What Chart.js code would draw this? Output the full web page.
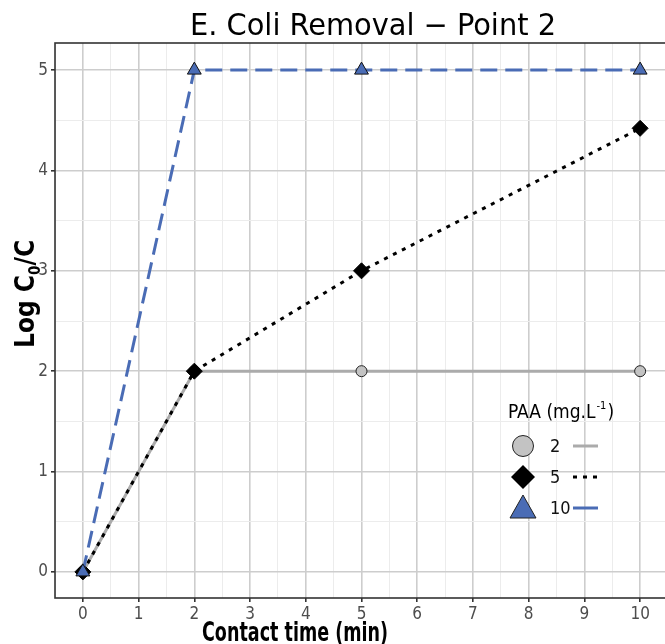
<!DOCTYPE html>
<html>
<head>
<meta charset="utf-8">
<script src="https://cdn.jsdelivr.net/npm/chart.js@4"></script>
<style>
  html, body { margin: 0; padding: 0; background: #fff; overflow: hidden; }
</style>
</head>
<body>
<canvas id="chart" width="677" height="644"></canvas>
<script>
// data
const contactTime = [0, 2, 5, 10];
const paa2 = [0, 2, 2, 2];
const paa5 = [0, 2, 3, 4.42];
const paa10 = [0, 5, 5, 5];
const seriesNames = ['2', '5', '10'];

const chartTitle = 'E. Coli Removal \u2212 Point 2';
const xTitle = 'Contact time (min)';

const GRAY = '#ababab';
const BLUE = '#4a6cb5';
const NARROW = '"Liberation Sans Narrow", "DejaVu Sans Condensed", "Liberation Sans", sans-serif';

function pts(ys) {
    return contactTime.map((x, i) => ({ x: x, y: ys[i] }));
}

// draw text squeezed to a given width
function fitText(ctx, text, x, y, width) {
    const w = ctx.measureText(text).width;
    ctx.save();
    ctx.translate(x, y);
    ctx.scale(width / w, 1);
    ctx.fillText(text, 0, 0);
    ctx.restore();
}

const decorations = {
    id: 'decorations',
    afterDraw(chart) {
        const ctx = chart.ctx;
        const a = chart.chartArea;
        ctx.save();
        // panel border
        ctx.strokeStyle = '#333';
        ctx.lineWidth = 1.6;
        ctx.strokeRect(a.left, a.top, a.right - a.left, a.bottom - a.top);

        ctx.fillStyle = '#000';
        ctx.textBaseline = 'alphabetic';
        ctx.textAlign = 'left';

        // title
        ctx.font = '30px ' + NARROW;
        fitText(ctx, chartTitle, 190, 35, 366);

        // x axis title
        ctx.font = 'bold 27px ' + NARROW;
        fitText(ctx, xTitle, 202, 641, 186);

        // y axis title, rotated, with subscript 0
        ctx.save();
        ctx.translate(34, 348);
        ctx.rotate(-Math.PI / 2);
        ctx.font = 'bold 26px ' + NARROW;
        ctx.fillText('Log C', 0, 0);
        let w = ctx.measureText('Log C').width;
        ctx.font = 'bold 15px ' + NARROW;
        ctx.fillText('0', w, 6);
        w += ctx.measureText('0').width;
        ctx.font = 'bold 26px ' + NARROW;
        ctx.fillText('/C', w, 0);
        ctx.restore();

        // legend
        ctx.font = '19px ' + NARROW;
        ctx.fillText('PAA (mg.L', 508, 418);
        let lw = ctx.measureText('PAA (mg.L').width;
        ctx.font = '11px ' + NARROW;
        ctx.fillText('-1', 509 + lw, 409);
        let lw2 = ctx.measureText('-1').width;
        ctx.font = '19px ' + NARROW;
        ctx.fillText(')', 510 + lw + lw2, 418);

        const rows = [446, 477, 508];
        // circle
        ctx.lineWidth = 1;
        ctx.strokeStyle = '#222';
        ctx.fillStyle = '#c3c3c3';
        ctx.beginPath();
        ctx.arc(523, rows[0], 10.5, 0, Math.PI * 2);
        ctx.fill();
        ctx.stroke();
        // diamond
        ctx.fillStyle = '#000';
        ctx.beginPath();
        ctx.moveTo(523, rows[1] - 12);
        ctx.lineTo(535, rows[1]);
        ctx.lineTo(523, rows[1] + 12);
        ctx.lineTo(511, rows[1]);
        ctx.closePath();
        ctx.fill();
        // triangle
        ctx.fillStyle = BLUE;
        ctx.beginPath();
        ctx.moveTo(523, rows[2] - 13);
        ctx.lineTo(536, rows[2] + 10);
        ctx.lineTo(510, rows[2] + 10);
        ctx.closePath();
        ctx.fill();
        ctx.stroke();

        ctx.fillStyle = '#111';
        ctx.font = '18px ' + NARROW;
        ctx.textBaseline = 'middle';
        seriesNames.forEach((s, i) => ctx.fillText(s, 550, rows[i] + 1));

        ctx.lineWidth = 3;
        ctx.strokeStyle = GRAY;
        ctx.beginPath(); ctx.moveTo(573, rows[0]); ctx.lineTo(598, rows[0]); ctx.stroke();
        ctx.strokeStyle = '#000';
        ctx.setLineDash([4, 6]);
        ctx.beginPath(); ctx.moveTo(573, rows[1]); ctx.lineTo(598, rows[1]); ctx.stroke();
        ctx.setLineDash([]);
        ctx.strokeStyle = BLUE;
        ctx.beginPath(); ctx.moveTo(573, rows[2]); ctx.lineTo(598, rows[2]); ctx.stroke();
        ctx.restore();
    }
};

const isMajor = v => Math.abs(v - Math.round(v)) < 1e-6;

function gridStyle() {
    return {
        color: c => isMajor(c.tick.value) ? '#cdcdcd' : '#ececec',
        lineWidth: c => isMajor(c.tick.value) ? 1.6 : 1,
        tickColor: c => isMajor(c.tick.value) ? '#333' : 'rgba(0,0,0,0)',
        tickLength: 4,
        drawTicks: true
    };
}

new Chart(document.getElementById('chart'), {
    type: 'line',
    data: {
        datasets: [
            {
                label: seriesNames[2],
                data: pts(paa10),
                borderColor: BLUE,
                borderWidth: 3,
                borderDash: [17, 8],
                pointStyle: 'triangle',
                pointRadius: 8,
                pointBackgroundColor: BLUE,
                pointBorderColor: '#111',
                pointBorderWidth: 1,
                order: 1
            },
            {
                label: seriesNames[1],
                data: pts(paa5),
                borderColor: '#000',
                borderWidth: 3,
                borderDash: [4, 6],
                pointStyle: 'rectRot',
                pointRadius: 8,
                pointBackgroundColor: '#000',
                pointBorderColor: '#000',
                pointBorderWidth: 1,
                order: 2
            },
            {
                label: seriesNames[0],
                data: pts(paa2),
                borderColor: GRAY,
                borderWidth: 3,
                pointStyle: 'circle',
                pointRadius: 5.5,
                pointBackgroundColor: '#c3c3c3',
                pointBorderColor: '#222',
                pointBorderWidth: 1,
                order: 3
            }
        ]
    },
    options: {
        responsive: false,
        animation: false,
        layout: { padding: { top: 43, right: 0, bottom: 0, left: 0 } },
        plugins: {
            legend: { display: false },
            title: { display: false },
            tooltip: { enabled: false }
        },
        scales: {
            x: {
                type: 'linear',
                min: -0.5,
                max: 10.5,
                grid: gridStyle(),
                border: { display: false },
                afterFit: s => { s.height = 46; },
                ticks: {
                    stepSize: 0.5,
                    autoSkip: false,
                    maxRotation: 0,
                    padding: 2,
                    color: '#4d4d4d',
                    font: { family: NARROW, size: 17 },
                    callback: v => isMajor(v) ? String(Math.round(v)) : ''
                }
            },
            y: {
                type: 'linear',
                min: -0.26,
                max: 5.27,
                grid: gridStyle(),
                border: { display: false },
                afterFit: s => { s.width = 55; },
                afterBuildTicks: s => {
                    const t = [];
                    for (let v = 0; v <= 5; v += 0.5) t.push({ value: v });
                    s.ticks = t;
                },
                ticks: {
                    autoSkip: false,
                    padding: 3,
                    color: '#4d4d4d',
                    font: { family: NARROW, size: 17 },
                    callback: v => isMajor(v) ? String(Math.round(v)) : ''
                }
            }
        }
    },
    plugins: [decorations]
});
</script>
</body>
</html>
